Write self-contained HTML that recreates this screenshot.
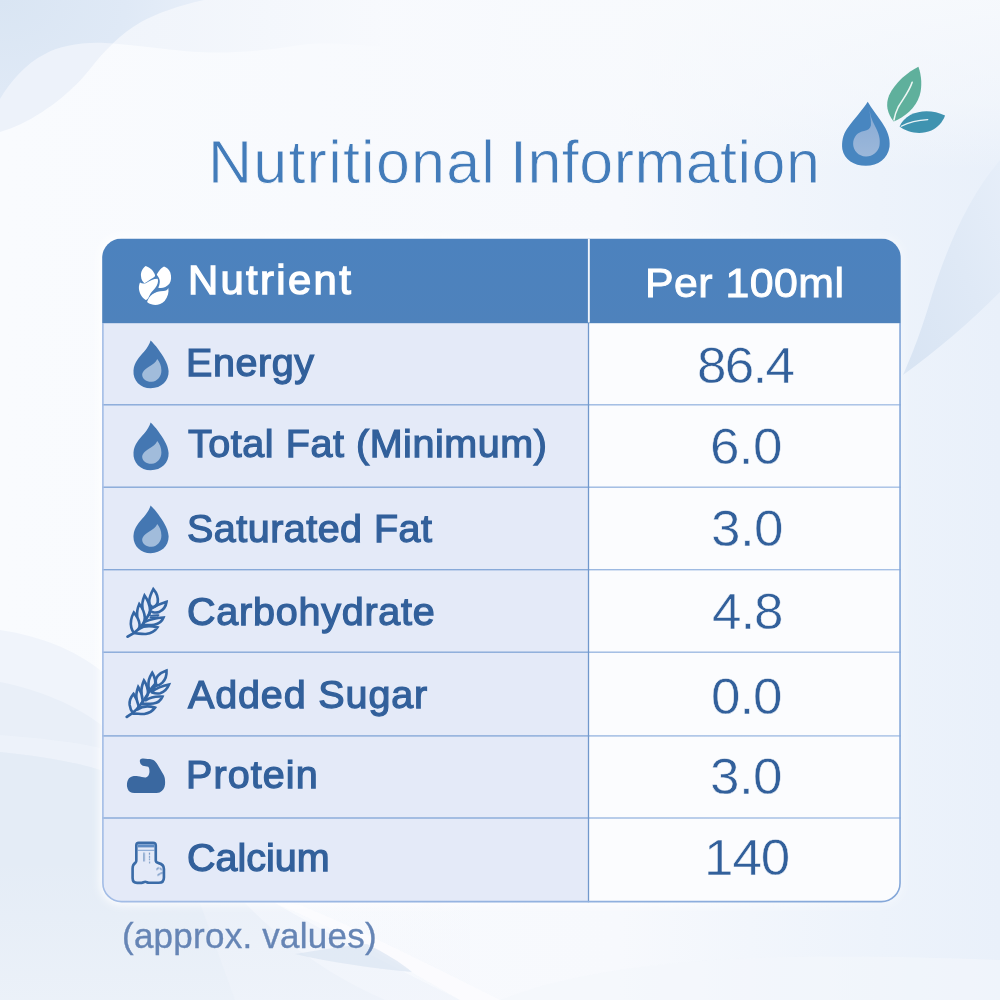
<!DOCTYPE html>
<html><head><meta charset="utf-8"><title>Nutritional Information</title><style>
html,body{margin:0;padding:0;}
body{width:1000px;height:1000px;overflow:hidden;background:#f8fafd;font-family:"Liberation Sans",sans-serif;position:relative;}
#bg{position:absolute;left:0;top:0;}
.t{position:absolute;white-space:nowrap;display:block;transform-origin:0 50%;will-change:transform;}
.ic{position:absolute;overflow:visible;}
.title{color:#437cba;-webkit-text-stroke:0.8px #f8fafd;}
.hl{color:#fff;-webkit-text-stroke:1.3px #fff;}
.hr{color:#fff;-webkit-text-stroke:0.9px #fff;}
.lab{color:#32609b;-webkit-text-stroke:1.25px #32609b;}
.val{color:#32609b;-webkit-text-stroke:0.5px #fbfcfe;}
.foot{color:#6685b5;-webkit-text-stroke:0.35px #6685b5;}
</style></head>
<body>
<svg id="bg" width="1000" height="1000" viewBox="0 0 1000 1000">
<defs>
<linearGradient id="gr" x1="0" y1="0" x2="1" y2="0"><stop offset="0" stop-color="#f9fbfe"/><stop offset="0.62" stop-color="#f7f9fd"/><stop offset="0.88" stop-color="#edf3fb"/><stop offset="1" stop-color="#e9f0fa"/></linearGradient>
<linearGradient id="leaf" x1="0" y1="1" x2="1" y2="0"><stop offset="0" stop-color="#d8e4f3"/><stop offset="0.55" stop-color="#dfe9f6"/><stop offset="1" stop-color="#e6eef9"/></linearGradient>
<linearGradient id="fadeC" x1="0" y1="0" x2="1" y2="0"><stop offset="0" stop-color="#edf2fa"/><stop offset="0.5" stop-color="#f1f5fb"/><stop offset="1" stop-color="#f7f9fd"/></linearGradient>
<radialGradient id="gA" cx="0" cy="0" r="1" gradientUnits="userSpaceOnUse" gradientTransform="scale(210 150)"><stop offset="0" stop-color="#d9e5f3"/><stop offset="0.6" stop-color="#dfe9f6"/><stop offset="1" stop-color="#e8eff9"/></radialGradient>
<linearGradient id="w1" x1="0" y1="0" x2="0" y2="1"><stop offset="0" stop-color="#e9eff8"/><stop offset="1" stop-color="#edf2f9"/></linearGradient>
<linearGradient id="w2" x1="0" y1="0" x2="1" y2="1"><stop offset="0" stop-color="#e2eaf5"/><stop offset="1" stop-color="#e9eff8"/></linearGradient>
<linearGradient id="w4" x1="0" y1="0" x2="1" y2="0"><stop offset="0" stop-color="#dde7f3"/><stop offset="1" stop-color="#eaf0f9"/></linearGradient>
<linearGradient id="botfade" x1="0" y1="0" x2="0" y2="1"><stop offset="0" stop-color="#f4f7fc" stop-opacity="0"/><stop offset="1" stop-color="#f4f7fc" stop-opacity="0.45"/></linearGradient>
<linearGradient id="topfade" x1="0" y1="0" x2="0" y2="1"><stop offset="0" stop-color="#f8fafd" stop-opacity="0.85"/><stop offset="0.6" stop-color="#f8fafd" stop-opacity="0.5"/><stop offset="1" stop-color="#f8fafd" stop-opacity="0"/></linearGradient>
<clipPath id="cS1"><path d="M0,0 L204,0 C180,5 155,14 141,22 C120,34 105,50 90,69 C75,88 50,110 21,124 C14,127 7,130 0,132 Z"/></clipPath>
</defs>
<rect width="1000" height="1000" fill="url(#gr)"/>
<rect x="500" y="0" width="500" height="170" fill="url(#topfade)"/>
<!-- top-left waves -->
<path d="M0,0 L204,0 C180,5 155,14 141,22 C120,34 105,50 90,69 C75,88 50,110 21,124 C14,127 7,130 0,132 Z" fill="#edf2fa"/>
<path d="M0,0 L380,0 L380,47 C350,44 325,42 300,45 C270,50 240,53 210,52.5 C180,52 150,46 105,43 C80,42 60,46 45,54 C25,64 10,82 0,99 Z" fill="url(#fadeC)" opacity="0.9"/>
<path d="M0,0 L380,0 L380,47 C350,44 325,42 300,45 C270,50 240,53 210,52.5 C180,52 150,46 105,43 C80,42 60,46 45,54 C25,64 10,82 0,99 Z" fill="url(#gA)" clip-path="url(#cS1)"/>
<!-- right leaf -->
<path d="M1000,160 C968,198 948,245 932,295 C921,332 912,355 903,375 C935,352 970,322 1000,292 Z" fill="url(#leaf)"/>
<!-- bottom-left waves -->
<path d="M0,630 C40,636 75,650 100,670 C160,720 220,800 275,903 C330,935 400,970 460,1000 L0,1000 Z" fill="#f0f4fb"/>
<path d="M0,682 C40,690 75,705 100,724 C150,765 200,830 245,903 C290,950 340,980 385,1000 L0,1000 Z" fill="#e9eff8"/>
<path d="M0,735 C40,738 75,742 100,748 L100,770 C75,762 40,756 0,752 Z" fill="#eef3fa" opacity="0.8"/>
<path d="M0,752 C40,756 75,762 100,770 C140,795 175,845 200,903 L235,1000 L0,1000 Z" fill="#e4ecf6"/>
<rect x="0" y="860" width="470" height="140" fill="url(#botfade)"/>
<path d="M300,905 C350,925 420,960 500,1000 L460,1000 C400,965 340,930 275,903 Z" fill="#fbfcfe" opacity="0.85"/>
<path d="M295,954 C320,950 345,946 367,944 C385,953 400,962 412,972 C370,968 330,962 295,954 Z" fill="#d9e4f1" opacity="0.65"/>
<path d="M500,1000 C600,960 760,950 1000,960 L1000,1000 Z" fill="#f3f6fc" opacity="0.6"/>
</svg>
<svg id="tbl" class="ic" style="left:0;top:0" width="1000" height="1000" viewBox="0 0 1000 1000"><defs><clipPath id="tclip"><path d="M121.6,238.5 L881.35,238.5 A19.5,19.5 0 0 1 900.85,258.0 L900.85,882.95 A19.5,19.5 0 0 1 881.35,902.45 L121.6,902.45 A19.5,19.5 0 0 1 102.1,882.95 L102.1,258.0 A19.5,19.5 0 0 1 121.6,238.5 Z"/></clipPath><filter id="glow" x="-5%" y="-5%" width="110%" height="110%"><feGaussianBlur stdDeviation="4"/></filter><linearGradient id="hl" x1="0" y1="0" x2="1" y2="0"><stop offset="0" stop-color="#86a8d8"/><stop offset="0.609" stop-color="#88aad9"/><stop offset="0.611" stop-color="#9bb8e1"/><stop offset="1" stop-color="#a6c0e5"/></linearGradient><linearGradient id="glowfill" x1="0" y1="0" x2="1" y2="0"><stop offset="0" stop-color="#fff" stop-opacity="0.95"/><stop offset="0.7" stop-color="#fff" stop-opacity="0.9"/><stop offset="1" stop-color="#fff" stop-opacity="0.35"/></linearGradient><linearGradient id="bd" gradientUnits="userSpaceOnUse" x1="100" y1="0" x2="902" y2="0"><stop offset="0" stop-color="#a3bde6"/><stop offset="0.5" stop-color="#94b3e0"/><stop offset="1" stop-color="#84a7d9"/></linearGradient><linearGradient id="hd" x1="0" y1="0" x2="0" y2="1"><stop offset="0" stop-color="#4c82be"/><stop offset="1" stop-color="#4e82bc"/></linearGradient></defs><path d="M121.6,236.5 L881.35,236.5 A21.5,21.5 0 0 1 902.85,258.0 L902.85,882.95 A21.5,21.5 0 0 1 881.35,904.45 L121.6,904.45 A21.5,21.5 0 0 1 100.1,882.95 L100.1,258.0 A21.5,21.5 0 0 1 121.6,236.5 Z" fill="url(#glowfill)" filter="url(#glow)"/><g clip-path="url(#tclip)"><rect x="102.1" y="238.5" width="798.75" height="663.95" fill="#fbfcfe"/><rect x="102.1" y="323.0" width="486.4" height="579.45" fill="#e4eaf8"/><rect x="102.1" y="404.10" width="798.75" height="1.4" fill="url(#hl)"/><rect x="102.1" y="486.50" width="798.75" height="1.4" fill="url(#hl)"/><rect x="102.1" y="569.00" width="798.75" height="1.4" fill="url(#hl)"/><rect x="102.1" y="651.50" width="798.75" height="1.4" fill="url(#hl)"/><rect x="102.1" y="735.20" width="798.75" height="1.4" fill="url(#hl)"/><rect x="102.1" y="817.30" width="798.75" height="1.4" fill="url(#hl)"/><rect x="587.85" y="323.0" width="1.3" height="579.45" fill="#7198cc"/><rect x="102.1" y="238.5" width="798.75" height="84.70" fill="url(#hd)"/><rect x="587.90" y="238.5" width="1.9" height="84.00" fill="#f1f5fb"/></g><path d="M102.89999999999999,323.0 L102.89999999999999,882.95 A18.7,18.7 0 0 0 121.6,901.6500000000001 L881.35,901.6500000000001 A18.7,18.7 0 0 0 900.0500000000001,882.95 L900.0500000000001,323.0" fill="none" stroke="url(#bd)" stroke-width="1.6"/></svg>
<span class="t title" style="left:207.6px;top:132.0px;font-size:61px;line-height:61px;letter-spacing:1.23px;">Nutritional</span>
<span class="t title" style="left:509.7px;top:132.0px;font-size:61px;line-height:61px;letter-spacing:0.47px;">Information</span>
<span class="t hl" style="left:188.3px;top:259.5px;font-size:40.6px;line-height:40.6px;letter-spacing:2.28px;transform:scaleX(1.03);">Nutrient</span>
<span class="t hr" style="left:645.3px;top:262.5px;font-size:40.0px;line-height:40.0px;letter-spacing:0.45px;transform:scaleX(1.07);">Per 100ml</span>
<span class="t lab" style="left:186.3px;top:343.1px;font-size:39.5px;line-height:39.5px;letter-spacing:0.55px;">Energy</span>
<span class="t lab" style="left:188.0px;top:424.4px;font-size:39.5px;line-height:39.5px;letter-spacing:0.55px;">Total Fat (Minimum)</span>
<span class="t lab" style="left:187.1px;top:509.1px;font-size:39.5px;line-height:39.5px;letter-spacing:0.47px;">Saturated Fat</span>
<span class="t lab" style="left:187.1px;top:591.8px;font-size:39.5px;line-height:39.5px;letter-spacing:0.77px;">Carbohydrate</span>
<span class="t lab" style="left:187.9px;top:674.8px;font-size:39.5px;line-height:39.5px;letter-spacing:0.86px;">Added Sugar</span>
<span class="t lab" style="left:186.2px;top:755.4px;font-size:39.5px;line-height:39.5px;letter-spacing:1.08px;">Protein</span>
<span class="t lab" style="left:187.1px;top:837.8px;font-size:39.5px;line-height:39.5px;letter-spacing:0.01px;">Calcium</span>
<span class="t val" style="left:696.7px;top:340.9px;font-size:50px;line-height:50px;letter-spacing:-1.63px;transform:scaleX(1.06);">86.4</span>
<span class="t val" style="left:710.3px;top:421.7px;font-size:50px;line-height:50px;letter-spacing:-0.59px;transform:scaleX(1.06);">6.0</span>
<span class="t val" style="left:710.8px;top:504.1px;font-size:50px;line-height:50px;letter-spacing:-0.56px;transform:scaleX(1.06);">3.0</span>
<span class="t val" style="left:711.7px;top:586.5px;font-size:50px;line-height:50px;letter-spacing:-0.98px;transform:scaleX(1.06);">4.8</span>
<span class="t val" style="left:711.2px;top:671.5px;font-size:50px;line-height:50px;letter-spacing:-0.99px;transform:scaleX(1.06);">0.0</span>
<span class="t val" style="left:710.2px;top:751.5px;font-size:50px;line-height:50px;letter-spacing:-0.54px;transform:scaleX(1.06);">3.0</span>
<span class="t val" style="left:704.1px;top:832.5px;font-size:50px;line-height:50px;letter-spacing:-1.01px;transform:scaleX(1.06);">140</span>
<span class="t foot" style="left:122.3px;top:917.5px;font-size:35px;line-height:35px;letter-spacing:0.25px;">(approx. values)</span>
<svg class="ic" style="left:830px;top:55px" width="130" height="130" viewBox="0 0 1000 1000">
<path fill="#4886c0" d="M290,360 C255,420 185,490 130,570 C100,615 88,670 95,725 C110,805 185,852 275,852 C370,852 445,795 458,705 C465,640 440,580 400,520 C360,462 320,410 290,360 Z"/>
<defs><linearGradient id="hlg" x1="0" y1="0" x2="0" y2="1"><stop offset="0" stop-color="#7fa6d2"/><stop offset="0.45" stop-color="#94b2d8"/><stop offset="1" stop-color="#a0badb"/></linearGradient></defs>
<path fill="url(#hlg)" d="M300,395 C305,450 320,500 345,545 C375,600 390,650 380,700 C368,750 325,782 275,780 C220,778 178,735 178,682 C178,630 215,592 262,585 C290,580 310,565 315,540 C318,500 305,450 300,395 Z" opacity="0.95"/>
<path fill="#5fb09c" d="M680,90 C600,130 500,210 455,310 C425,380 440,450 490,512 C570,480 660,410 690,310 C710,240 705,160 680,90 Z"/>
<path fill="none" stroke="#eef6f4" stroke-width="12" stroke-linecap="round" d="M632,210 C610,280 560,340 525,400 C510,430 498,465 492,500"/>
<path fill="#3f93b0" d="M885,465 C800,425 700,420 620,460 C580,482 550,515 535,550 C600,600 700,615 780,580 C830,555 868,515 885,465 Z"/>
<path fill="none" stroke="#e8f3f7" stroke-width="10" stroke-linecap="round" d="M752,497 C680,500 610,515 548,548"/>
</svg>
<svg class="ic" style="left:125px;top:255px" width="60" height="60" viewBox="0 0 1000 1000">
<g fill="#ffffff">
<path d="M345,185 C300,215 262,280 266,345 C270,410 295,450 325,470 C375,448 420,405 470,380 C495,368 505,352 500,335 C480,270 420,210 345,185 Z"/>
<path d="M650,190 C600,215 545,285 530,330 C560,370 585,410 580,450 C575,500 562,530 555,545 C610,565 690,540 740,480 C775,430 775,350 755,290 C735,240 700,205 650,190 Z"/>
<path d="M250,460 C285,482 325,482 360,462 C420,430 470,395 545,395 C560,440 545,500 500,555 C460,605 425,630 400,690 C385,725 365,745 345,752 C285,715 238,640 232,560 C230,520 238,485 250,460 Z"/>
<path d="M368,785 C380,740 412,690 462,652 C512,618 565,603 640,602 C682,600 712,585 722,552 C735,620 715,700 660,765 C610,818 540,838 470,830 C430,824 392,808 368,785 Z"/>
</g>
<path d="M430,660 C470,630 520,610 575,585" stroke="#4d82bd" stroke-width="14" fill="none" opacity="0.6"/></svg>
<svg class="ic" style="left:120px;top:335px" width="60" height="60" viewBox="0 0 1000 1000">
<path fill="#4477b2" d="M510,90 C492,150 455,215 400,280 C330,360 238,450 225,590 C213,760 340,887 512,887 C690,887 818,760 810,600 C800,455 705,335 640,240 C592,172 542,120 510,90 Z"/>
<path fill="#a1bcdb" d="M620,400 C602,452 545,490 482,528 C412,570 365,620 370,672 C378,742 450,786 530,780 C622,772 690,692 690,592 C690,512 660,442 620,400 Z"/></svg>
<svg class="ic" style="left:120px;top:417.4px" width="60" height="60" viewBox="0 0 1000 1000">
<path fill="#4477b2" d="M510,90 C492,150 455,215 400,280 C330,360 238,450 225,590 C213,760 340,887 512,887 C690,887 818,760 810,600 C800,455 705,335 640,240 C592,172 542,120 510,90 Z"/>
<path fill="#a1bcdb" d="M620,400 C602,452 545,490 482,528 C412,570 365,620 370,672 C378,742 450,786 530,780 C622,772 690,692 690,592 C690,512 660,442 620,400 Z"/></svg>
<svg class="ic" style="left:120px;top:500.3px" width="60" height="60" viewBox="0 0 1000 1000">
<path fill="#4477b2" d="M510,90 C492,150 455,215 400,280 C330,360 238,450 225,590 C213,760 340,887 512,887 C690,887 818,760 810,600 C800,455 705,335 640,240 C592,172 542,120 510,90 Z"/>
<path fill="#a1bcdb" d="M620,400 C602,452 545,490 482,528 C412,570 365,620 370,672 C378,742 450,786 530,780 C622,772 690,692 690,592 C690,512 660,442 620,400 Z"/></svg>
<svg class="ic" style="left:125px;top:585px" width="45" height="55" viewBox="0 0 818 1000">
<g fill="none" stroke="#3466a4" stroke-width="48" stroke-linejoin="miter" stroke-miterlimit="8" stroke-linecap="round">
<path d="M45,940 C120,905 200,850 260,790 C330,715 395,620 440,520 C460,470 475,430 480,390"/>
<path d="M165,870 C140,845 125,815 115,775 C90,680 115,585 160,500 C215,560 255,640 265,715 C268,745 262,772 250,795"/>
<path d="M222,565 C212,490 228,420 260,345 C320,420 355,505 360,590 C362,630 350,665 335,695"/>
<path d="M318,425 C305,350 322,270 355,190 C420,280 452,370 455,460 C456,495 450,520 440,545"/>
<path d="M480,392 C450,365 438,330 440,290 C445,220 475,150 515,75 C580,150 605,235 595,315 C588,360 545,395 490,410"/>
<path d="M485,425 C560,380 650,335 755,305 C745,385 700,450 630,485 C585,505 540,505 495,490"/>
<path d="M470,560 C520,548 570,545 610,548 M600,582 C555,584 510,587 462,594" stroke-width="30"/>
<path d="M380,662 C450,625 570,600 700,590 C672,665 610,708 530,722 C470,732 410,730 340,725"/>
<path d="M255,800 C320,755 440,735 590,770 C545,840 470,880 380,890 C310,895 240,880 185,878"/>
</g></svg>
<svg class="ic" style="left:125px;top:665px" width="45" height="55" viewBox="0 0 818 1000">
<g fill="none" stroke="#3466a4" stroke-width="48" stroke-linejoin="miter" stroke-miterlimit="8" stroke-linecap="round">
<path d="M30,945 C110,900 175,850 225,795 C295,715 360,620 420,515 C460,445 505,385 560,330"/>
<path d="M140,865 C112,830 92,780 84,725 C75,650 105,585 155,525 C200,590 235,665 245,740 C247,765 238,785 222,800"/>
<path d="M210,612 C198,550 212,475 240,400 C290,480 315,560 320,635 C320,665 312,685 300,702"/>
<path d="M300,512 C292,445 308,365 345,280 C400,360 422,445 416,525 C412,555 400,575 385,592"/>
<path d="M446,472 C425,420 420,350 435,270 C448,220 470,180 495,140 C545,225 560,310 545,385 C532,430 505,452 470,462"/>
<path d="M566,352 C550,300 560,240 600,195 C640,150 695,120 755,100 C760,180 735,265 680,320 C645,355 605,372 562,380"/>
<path d="M482,490 C570,425 680,380 800,355 C770,430 715,490 640,512 C590,525 540,518 492,502"/>
<path d="M380,642 C450,590 560,568 680,575 C650,645 590,690 515,700 C445,708 375,704 310,706"/>
<path d="M230,806 C300,755 420,738 545,775 C500,840 430,880 350,890 C280,895 210,880 150,885"/>
</g></svg>
<svg class="ic" style="left:120px;top:745px" width="60" height="60" viewBox="0 0 1000 1000">
<path fill="#3a68a0" d="M330,262 C335,235 355,222 385,225 C440,232 490,232 530,240 C570,250 600,280 625,325 C660,390 700,450 730,505 C750,545 755,600 750,660 C745,720 715,768 660,790 C610,808 500,800 400,800 C320,800 250,800 200,795 C155,785 125,745 117,690 C112,640 122,590 150,555 C185,520 240,515 300,520 C350,525 395,545 430,540 C465,535 485,505 490,460 C493,415 488,380 470,362 C445,350 410,355 380,345 C350,330 328,300 330,262 Z"/></svg>
<svg class="ic" style="left:120px;top:830px" width="60" height="60" viewBox="0 0 1000 1000">
<g fill="none" stroke="#3b6ca8" stroke-width="44" stroke-linejoin="round" stroke-linecap="round">
<path d="M312,213 L550,213 C580,213 596,230 596,258 L596,510 C596,535 615,545 645,552 C700,565 732,600 732,650 L732,790 C732,850 700,880 645,880 L480,880 C455,880 440,862 420,862 C400,862 385,882 360,882 L285,882 C235,882 210,850 210,800 L210,640 C210,590 235,560 262,540 C272,530 272,520 272,505 L272,258 C272,230 285,213 312,213 Z"/>
</g>
<rect x="295" y="238" width="280" height="52" fill="#5d8bc4"/>
<rect x="295" y="330" width="280" height="16" fill="#5d8bc4" opacity="0.8"/>
<g stroke="#3b6ca8" stroke-width="21" stroke-linecap="round" fill="none" opacity="0.85">
<path d="M400,385 L400,515" opacity="0.85"/>
<path d="M490,385 L490,400 M490,440 L490,450 M490,482 L490,490 M492,535 L492,545" opacity="0.85"/>
<path d="M612,655 L640,632 M672,640 L690,660 M632,752 L660,730 M680,722 L705,712" opacity="0.9"/>
</g></svg>
</body></html>
